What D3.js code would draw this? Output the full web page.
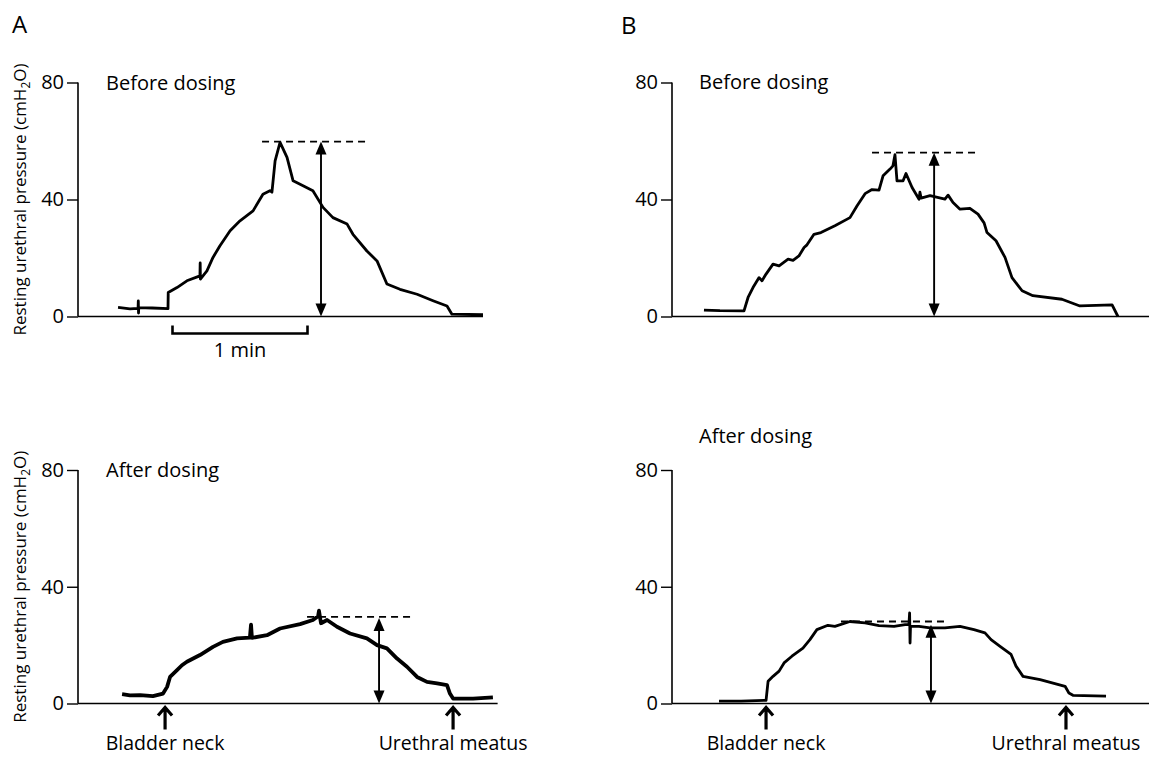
<!DOCTYPE html>
<html>
<head>
<meta charset="utf-8">
<script src="https://cdn.jsdelivr.net/npm/d3@7/dist/d3.min.js"></script>
<style>
  body { margin: 0; background: #fff; }
  text { font-family: "Open Sans", "Noto Sans", sans-serif; fill: #000; }
</style>
</head>
<body>
<script>
// time in seconds from the y axis, pressure in cmH2O
var yTicks = [0, 40, 80];

var aBeforeTrace = [
  [17.8, 3.1], [23.1, 2.6], [26.7, 2.8], [26.8, 5.3], [26.9, 1.2], [27.0, 3.0], [33, 2.9], [40, 2.7],
  [40.1, 8.2], [44, 9.9], [48.4, 12.2], [54.2, 13.9], [54.3, 18.3], [54.4, 12.8], [57.3, 15.6],
  [60, 20.2], [63.1, 24.2], [67.6, 29.3], [72, 32.7], [77.8, 36.1], [82.2, 41.8], [85.3, 43],
  [86.2, 42.5], [87.6, 53.2], [89.8, 59.5], [92.9, 54.4], [95.6, 46.4], [98.7, 45.2], [104.4, 43],
  [108.9, 37.3], [113.3, 33.8], [119.6, 31.6], [122.2, 28.1], [128.4, 22.4], [132.9, 19],
  [137.3, 11.1], [143.1, 9.3], [150.7, 7.6], [157.8, 5.4], [164, 3.6], [166.2, 0.8], [180, 0.6]
];

var aAfterTrace = [
  [19.6, 3.2], [23.1, 2.8], [27.6, 2.9], [33.3, 2.5], [37.8, 3.4], [39.6, 5.7], [40.9, 9.1],
  [44, 11.4], [46.2, 13.1], [48.4, 14.3], [54.2, 16.6], [60, 19.4], [64.4, 21.1], [70.7, 22.3],
  [76.4, 22.6], [76.9, 27], [77.3, 22.5], [84, 23.4], [89.8, 25.7], [98.7, 27.2], [104.4, 28.6],
  [106.7, 29.9], [107.1, 31.8], [108, 27.5], [110.7, 28.6], [115.1, 26.3], [120.9, 24],
  [128.4, 22.3], [132.9, 20], [137.3, 18.9], [141.8, 15.4], [146.2, 12.6], [150.7, 9.1],
  [155.1, 7.4], [159.6, 6.9], [164, 6.3], [165.3, 3.4], [166.7, 1.7], [175.6, 1.7], [184.4, 2.1]
];

var bBeforeTrace = [
  [14.2, 2.2], [21.3, 2.0], [32, 1.9], [33.8, 6.5], [36, 9.9], [38.7, 13.3], [40, 12.2],
  [41.8, 14.5], [44.9, 17.9], [47.6, 17.3], [51.6, 19.6], [53.8, 19.2], [56.4, 20.7], [58.7, 23.6],
  [60, 24.5], [63.1, 28.1], [66.2, 28.7], [72.4, 31], [79.1, 33.8], [82.2, 37.8], [85.8, 42],
  [88.9, 43.4], [92, 43.2], [93.8, 48.1], [96.9, 50.4], [98.2, 51.5], [99.1, 55.3], [100, 46.4],
  [102.7, 46.4], [104, 48.9], [106.7, 44.1], [109.8, 40.1], [110.2, 42.5], [110.7, 40.5],
  [114.7, 41.3], [121.3, 40.1], [122.7, 41.5], [124.9, 39], [128, 36.7], [132.4, 37], [136, 35],
  [138.7, 32], [140, 28.7], [144, 25.9], [148, 20.2], [151.1, 13.3], [155.6, 8.8], [160.4, 7.1],
  [173.3, 5.9], [181.3, 3.6], [195.6, 4], [198.2, 0]
];

var bAfterTrace = [
  [20.9, 0.8], [30.7, 0.8], [41.8, 1.1], [42.7, 7.6], [44.9, 9.3], [47.6, 11.1], [49.8, 13.9],
  [53.3, 16.2], [58.2, 19], [61.3, 21.9], [64.4, 25.3], [69.3, 26.8], [72.4, 26.4], [79.1, 28.1],
  [85.8, 27.6], [92, 26.7], [98.7, 26.4], [103.6, 27], [105.3, 27], [105.6, 31], [105.8, 20.7],
  [106, 26.5], [109.8, 26.4], [114.7, 25.9], [121.3, 25.9], [128, 26.4], [134.2, 25.3],
  [139.1, 24.2], [141.8, 21.9], [145.8, 19.6], [150.7, 16.8], [152.9, 12.8], [156, 9.3],
  [163.6, 8.2], [174.7, 5.9], [176.4, 3.6], [178.2, 2.8], [192.9, 2.5]
];

// peak: [dash start, dash end, peak pressure, arrow time, arrow top]
var aBeforePeak = [81.8, 128.4, 59.8, 108, 59.8];
var aAfterPeak  = [101.8, 148.9, 29.7, 133.8, 29.3];
var bBeforePeak = [88.9, 136, 56, 116.5, 56];
var bAfterPeak  = [75.1, 122.2, 28.1, 115.1, 27];

var panelTitles = ["Before dosing", "After dosing", "Before dosing", "After dosing"];
var landmarkLabels = ["Bladder neck", "Urethral meatus"];
var aAfterLandmarks = [38.7, 166.7];
var bAfterLandmarks = [41.8, 175.1];
var scaleBar = [42, 102];
var scaleBarLabel = "1 min";

var svg = d3.select("body").append("svg")
  .attr("width", 1149)
  .attr("height", 757);

var pxPerSec = 2.25;

var panels = [
  { trace: aBeforeTrace, peak: aBeforePeak, title: panelTitles[0], x0: 78, xMax: 180, y0: 316.5, y80: 82.5,
    titleX: 106, titleY: 90, ylabel: true },
  { trace: aAfterTrace, peak: aAfterPeak, title: panelTitles[1], x0: 78, xMax: 186.5, y0: 703.5, y80: 470,
    titleX: 106, titleY: 477, ylabel: true, marks: aAfterLandmarks },
  { trace: bBeforeTrace, peak: bBeforePeak, title: panelTitles[2], x0: 672, xMax: 212, y0: 316.5, y80: 82.5,
    titleX: 699, titleY: 89 },
  { trace: bAfterTrace, peak: bAfterPeak, title: panelTitles[3], x0: 672, xMax: 212, y0: 703.5, y80: 470,
    titleX: 699, titleY: 443, marks: bAfterLandmarks }
];

panels.forEach(function(p, i) {
  var x = d3.scaleLinear().domain([0, p.xMax]).range([p.x0, p.x0 + p.xMax * pxPerSec]);
  var y = d3.scaleLinear().domain([0, 80]).range([p.y0, p.y80]);
  var g = svg.append("g");

  // y axis
  var yAxis = g.append("g")
    .attr("transform", "translate(" + p.x0 + ",0)")
    .call(d3.axisLeft(y).tickValues(yTicks).tickSize(11).tickPadding(3).tickFormat(d3.format("d")));
  yAxis.select(".domain").attr("d", "M0," + p.y80 + "V" + p.y0).attr("stroke-width", 1.6);
  yAxis.selectAll(".tick line").attr("stroke-width", 1.4);
  yAxis.selectAll(".tick text").style("font-size", "20px").style("font-family", "Open Sans");

  // baseline
  g.append("line")
    .attr("x1", p.x0).attr("x2", x(p.xMax))
    .attr("y1", y(0)).attr("y2", y(0))
    .attr("stroke", "#000").attr("stroke-width", 1.6);

  // trace
  g.append("path")
    .datum(p.trace)
    .attr("fill", "none")
    .attr("stroke", "#000")
    .attr("stroke-width", i == 1 ? 3.8 : 2.8)
    .attr("stroke-linejoin", "round")
    .attr("d", d3.line().x(function(d) { return x(d[0]); }).y(function(d) { return y(d[1]); }));

  // dashed peak line
  g.append("line")
    .attr("x1", x(p.peak[0])).attr("x2", x(p.peak[1]))
    .attr("y1", y(p.peak[2])).attr("y2", y(p.peak[2]))
    .attr("stroke", "#000").attr("stroke-width", 1.8)
    .attr("stroke-dasharray", "7,5");

  // double-headed arrow
  var ax = x(p.peak[3]), at = y(p.peak[4]), ab = y(0);
  g.append("line")
    .attr("x1", ax).attr("x2", ax)
    .attr("y1", at + 8).attr("y2", ab - 8)
    .attr("stroke", "#000").attr("stroke-width", 1.9);
  g.append("path")
    .attr("d", "M" + ax + "," + at + "L" + (ax - 5.5) + "," + (at + 13) + "L" + (ax + 5.5) + "," + (at + 13) + "Z")
    .attr("fill", "#000");
  g.append("path")
    .attr("d", "M" + ax + "," + ab + "L" + (ax - 5.5) + "," + (ab - 13) + "L" + (ax + 5.5) + "," + (ab - 13) + "Z")
    .attr("fill", "#000");

  // title
  g.append("text")
    .attr("x", p.titleX).attr("y", p.titleY)
    .style("font-size", "20px")
    .text(p.title);

  if (p.ylabel) {
    var lab = g.append("text")
      .attr("transform", "translate(26," + y(40) + ") rotate(-90)")
      .attr("text-anchor", "middle")
      .style("font-size", "17px");
    lab.append("tspan").text("Resting urethral pressure (cmH");
    lab.append("tspan").attr("dy", 4).style("font-size", "12px").text("2");
    lab.append("tspan").attr("dy", -4).text("O)");
  }

  if (p.marks) {
    p.marks.forEach(function(m, j) {
      var mx = x(m), top = y(0) + 3;
      g.append("path")
        .attr("d", "M" + mx + "," + (top + 23) + "V" + (top + 1) + "M" + (mx - 7) + "," + (top + 9) + "L" + mx + "," + (top + 1) + "L" + (mx + 7) + "," + (top + 9))
        .attr("fill", "none").attr("stroke", "#000").attr("stroke-width", 3.2);
      g.append("text")
        .attr("x", mx).attr("y", 750)
        .attr("text-anchor", "middle")
        .style("font-size", "19.5px")
        .text(landmarkLabels[j]);
    });
  }

  if (i == 0) {
    var sb = y(0) + 17;
    g.append("path")
      .attr("d", "M" + x(scaleBar[0]) + "," + (sb - 8) + "V" + sb + "H" + x(scaleBar[1]) + "V" + (sb - 8))
      .attr("fill", "none").attr("stroke", "#000").attr("stroke-width", 2.6);
    g.append("text")
      .attr("x", (x(scaleBar[0]) + x(scaleBar[1])) / 2).attr("y", 357)
      .attr("text-anchor", "middle")
      .style("font-size", "20px")
      .text(scaleBarLabel);
  }
});

svg.append("text").attr("x", 12).attr("y", 33).style("font-size", "24px").text("A");
svg.append("text").attr("x", 621).attr("y", 34).style("font-size", "24px").text("B");
</script>
</body>
</html>
